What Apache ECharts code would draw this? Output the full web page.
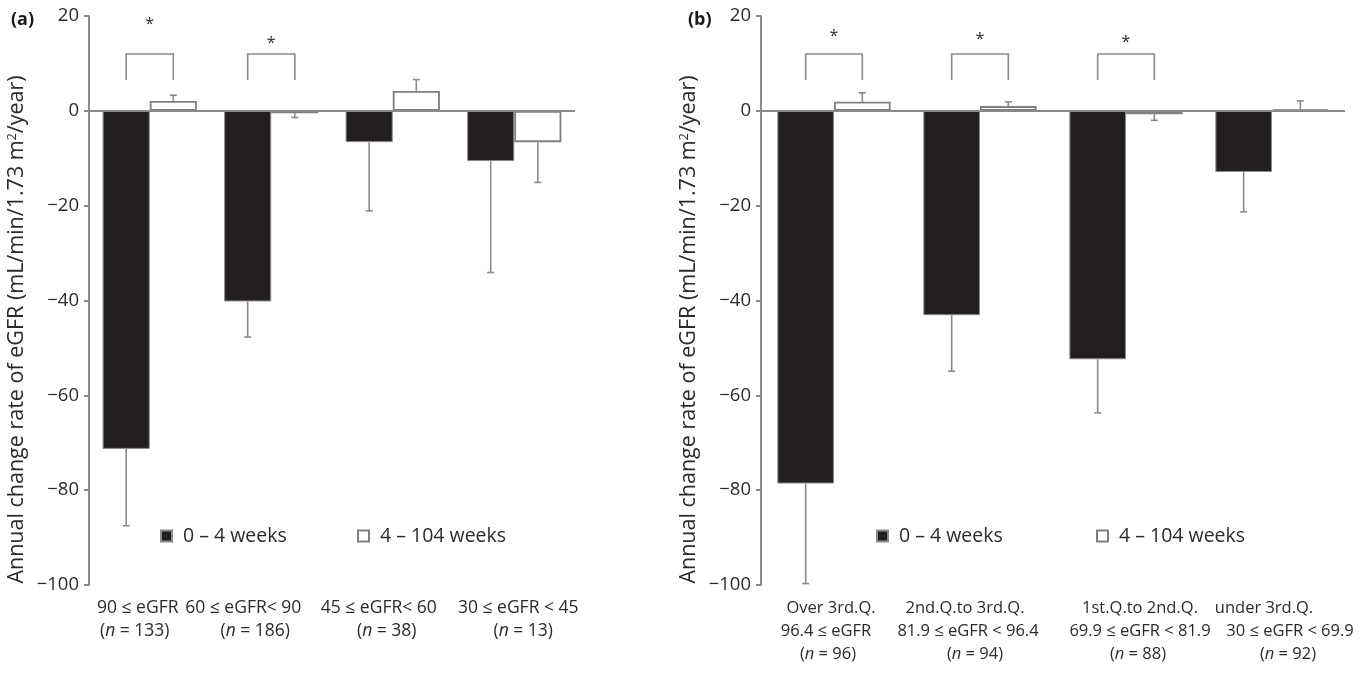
<!DOCTYPE html>
<html>
<head>
<meta charset="utf-8">
<script src="https://cdn.jsdelivr.net/npm/echarts@6/dist/echarts.min.js"></script>
<style>
html,body{margin:0;padding:0;background:#fff;}
#chart{width:1362px;height:675px;}
</style>
</head>
<body>
<div id="chart"></div>
<script>
// ---------- data ----------
const seriesNames = ['0 \u2013 4 weeks', '4 \u2013 104 weeks'];

// Panel (a)
const catsA = ['90 \u2264 eGFR', '60 \u2264 eGFR< 90', '45 \u2264 eGFR< 60', '30 \u2264 eGFR < 45'];
const nA = [133, 186, 38, 13];
const earlyA = [-71.3, -40.2, -6.6, -10.6];
const earlySdA = [16.2, 7.5, 14.5, 23.5];
const lateA = [2.1, -0.5, 4.2, -6.6];
const lateSdA = [1.2, 0.9, 2.4, 8.5];
const sigA = [true, true, false, false];
const starA = [18.3, 14.2, null, null];

// Panel (b)
const catsB = ['Over 3rd.Q.', '2nd.Q.to 3rd.Q.', '1st.Q.to 2nd.Q.', 'under 3rd.Q.'];
const rangeB = ['96.4 \u2264 eGFR', '81.9 \u2264 eGFR < 96.4', '69.9 \u2264 eGFR < 81.9', '30 \u2264 eGFR < 69.9'];
const nB = [96, 94, 88, 92];
const earlyB = [-78.6, -43.1, -52.4, -12.9];
const earlySdB = [21.1, 11.8, 11.3, 8.4];
const lateB = [1.9, 1.0, -0.7, 0.3];
const lateSdB = [1.9, 0.9, 1.3, 1.8];
const sigB = [true, true, true, false];
const starB = [15.6, 15.0, 14.5, null];

const yTicks = { min: -100, max: 20, interval: 20 };
const bracketTop = 12, bracketLeg = 6.5;

// ---------- styling ----------
const FONT = '"Open Sans", "Noto Sans", sans-serif';
const TXT = '#2b2b2b';
const AX = '#8a8a8a';
const BAR_FRAC = 0.388;
const DARK = '#231f20';
const XFS_A = 17.5, XFS_B = 16.5;
// horizontal nudges (px) of each label line relative to its category centre
const nudgeA = [[-12, -28, -14, 4], [-15, -16, -6, 9]];
const nudgeB = [[-3, -15, 14, -8], [-8, -12, 14, 18], [-6, -5, 12, 16]];

const rich = {};
function style(kind, l, r, fs) {
  const k = kind + '_' + l + '_' + r + '_' + String(fs).replace('.', 'd');
  if (!rich[k]) {
    rich[k] = { fontFamily: FONT, fontSize: fs, color: TXT, lineHeight: 23,
      fontStyle: kind === 'i' ? 'italic' : 'normal', padding: [0, r, 0, l] };
  }
  return k;
}
// parts: [[kind, text], ...]; shift line by d px (negative = left)
function line(parts, d, fs) {
  d = Math.round(d);
  const l = d > 0 ? 2 * d : 0, r = d < 0 ? -2 * d : 0;
  return parts.map((p, j) => {
    const pl = j === 0 ? l : 0, pr = j === parts.length - 1 ? r : 0;
    return '{' + style(p[0], pl, pr, fs) + '|' + p[1] + '}';
  }).join('');
}
const nParts = n => [['t', '('], ['i', 'n'], ['t', ' = ' + n + ')']];

const labelA = (v, i) =>
  line([['t', v]], nudgeA[0][i], XFS_A) + '\n' + line(nParts(nA[i]), nudgeA[1][i], XFS_A);
const labelB = (v, i) =>
  line([['t', v]], nudgeB[0][i], XFS_B) + '\n' +
  line([['t', rangeB[i]]], nudgeB[1][i], XFS_B) + '\n' +
  line(nParts(nB[i]), nudgeB[2][i], XFS_B);
// pre-generate rich styles
catsA.forEach(labelA);
catsB.forEach(labelB);

const chart = echarts.init(document.getElementById('chart'), null, { renderer: 'canvas' });

function xAxisFor(gridIndex, cats, labelFn, fs) {
  return {
    type: 'category', gridIndex, data: cats,
    axisLine: { show: false }, axisTick: { show: false },
    splitLine: { show: false },
    axisLabel: {
      interval: 0, hideOverlap: false, margin: 12, color: TXT, fontFamily: FONT, fontSize: fs, lineHeight: 23,
      formatter: labelFn, rich
    }
  };
}
function yAxisFor(gridIndex) {
  return {
    type: 'value', gridIndex, min: yTicks.min, max: yTicks.max, interval: yTicks.interval,
    axisLine: { show: true, lineStyle: { color: AX, width: 2 } },
    axisTick: { show: true, length: 5, lineStyle: { color: AX, width: 2 } },
    splitLine: { show: false },
    axisLabel: { margin: 10, color: TXT, fontFamily: FONT, fontSize: 18.5,
      formatter: v => String(v).replace('-', '\u2212') },
    name: 'Annual change rate of eGFR (mL/min/1.73 m{s|2}/year)',
    nameLocation: 'middle', nameGap: 61, nameRotate: 90,
    nameTextStyle: { color: TXT, fontFamily: FONT, fontSize: 21.5, padding: [0, 58, 0, 0],
      rich: { s: { fontSize: 12.5, fontFamily: FONT, color: TXT, verticalAlign: 'top', lineHeight: 16 } } }
  };
}

function errSeries(xi, early, earlySd, late, lateSd) {
  const data = [];
  early.forEach((v, i) => data.push([i, v, earlySd[i], 0]));
  late.forEach((v, i) => data.push([i, v, lateSd[i], 1]));
  return {
    type: 'custom', xAxisIndex: xi, yAxisIndex: xi, z: 5, silent: true,
    encode: { x: 0, y: 1 },
    renderItem: function (params, api) {
      const cat = api.value(0), v = api.value(1), sd = api.value(2), slot = api.value(3);
      const band = api.size([1, 0])[0];
      const bw = band * BAR_FRAC;
      const cx = api.coord([cat, 0])[0] + (slot === 0 ? -bw / 2 : bw / 2);
      const end = v < 0 ? v - sd : v + sd;
      const y0 = api.coord([cat, v])[1];
      const y1 = api.coord([cat, end])[1];
      const st = { stroke: AX, lineWidth: 1.6 };
      return { type: 'group', children: [
        { type: 'line', shape: { x1: cx, y1: y0, x2: cx, y2: y1 }, style: st },
        { type: 'line', shape: { x1: cx - 3.5, y1: y1, x2: cx + 3.5, y2: y1 }, style: st }
      ]};
    },
    data
  };
}

function sigSeries(xi, sig, star) {
  const data = [];
  sig.forEach((s, i) => { if (s) data.push([i, bracketTop, bracketLeg, star[i]]); });
  return {
    type: 'custom', xAxisIndex: xi, yAxisIndex: xi, z: 6, silent: true,
    encode: { x: 0, y: 1 },
    renderItem: function (params, api) {
      const cat = api.value(0);
      const band = api.size([1, 0])[0];
      const bw = band * BAR_FRAC;
      const c = api.coord([cat, api.value(1)]);
      const yTop = c[1];
      const yLeg = api.coord([cat, api.value(2)])[1];
      const yStar = api.coord([cat, api.value(3)])[1];
      const xl = c[0] - bw / 2, xr = c[0] + bw / 2;
      return { type: 'group', children: [
        { type: 'polyline', shape: { points: [[xl, yLeg], [xl, yTop], [xr, yTop], [xr, yLeg]] },
          style: { stroke: AX, lineWidth: 1.6, fill: null } },
        { type: 'text', x: c[0], y: yStar,
          style: { text: '*', fill: TXT, font: '16px ' + FONT, align: 'center', verticalAlign: 'middle' } }
      ]};
    },
    data
  };
}

function barPair(xi, early, late) {
  return [
    {
      name: seriesNames[0], type: 'bar', xAxisIndex: xi, yAxisIndex: xi,
      data: early, barWidth: (BAR_FRAC * 100) + '%', barGap: '0%',
      itemStyle: { color: DARK, borderColor: '#8c8c8c', borderWidth: 1 },
      markLine: { silent: true, symbol: 'none', label: { show: false },
        lineStyle: { color: AX, width: 2, type: 'solid' }, data: [{ yAxis: 0 }] },
      z: 3
    },
    {
      name: seriesNames[1], type: 'bar', xAxisIndex: xi, yAxisIndex: xi,
      data: late, barWidth: (BAR_FRAC * 100) + '%', barGap: '0%',
      itemStyle: { color: '#ffffff', borderColor: '#7f7f7f', borderWidth: 1.8 },
      z: 3
    }
  ];
}

function legendAt(left, idx) {
  return {
    left, top: 526, orient: 'horizontal', itemWidth: 11, itemHeight: 11, icon: 'rect',
    data: [seriesNames[idx]], selectedMode: false, padding: 0,
    textStyle: { color: TXT, fontFamily: FONT, fontSize: 19.5, padding: [0, 0, 0, 6] }
  };
}

const option = {
  backgroundColor: '#ffffff',
  animation: false,
  title: [
    { text: '(a)', left: 6, top: 6, textStyle: { fontFamily: FONT, fontSize: 18, fontWeight: 'bold', color: '#1a1a1a' } },
    { text: '(b)', left: 683, top: 6, textStyle: { fontFamily: FONT, fontSize: 18, fontWeight: 'bold', color: '#1a1a1a' } }
  ],
  legend: [legendAt(160, 0), legendAt(357, 1), legendAt(876, 0), legendAt(1096, 1)],
  grid: [
    { left: 89, top: 16, width: 486, height: 569, containLabel: false },
    { left: 761, top: 16, width: 584, height: 569, containLabel: false }
  ],
  xAxis: [
    xAxisFor(0, catsA, labelA, XFS_A),
    xAxisFor(1, catsB, labelB, XFS_B)
  ],
  yAxis: [yAxisFor(0), yAxisFor(1)],
  series: [
    ...barPair(0, earlyA, lateA),
    errSeries(0, earlyA, earlySdA, lateA, lateSdA),
    sigSeries(0, sigA, starA),
    ...barPair(1, earlyB, lateB),
    errSeries(1, earlyB, earlySdB, lateB, lateSdB),
    sigSeries(1, sigB, starB)
  ]
};
chart.setOption(option);
</script>
</body>
</html>
